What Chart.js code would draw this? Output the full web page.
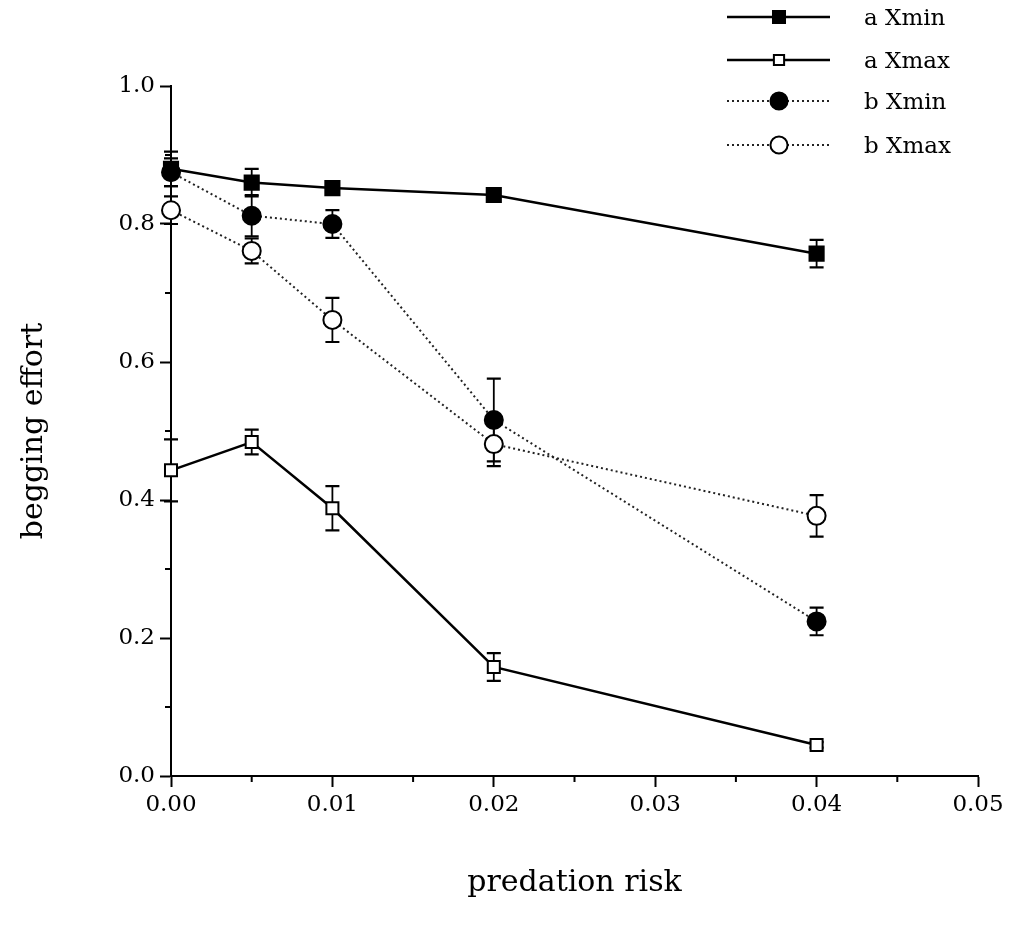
<!DOCTYPE html>
<html><head><meta charset="utf-8">
<script src="https://cdn.jsdelivr.net/npm/chart.js@4/dist/chart.umd.min.js"></script>
<style>html,body{margin:0;padding:0;background:#fff}#wrap{width:1009px;height:925px}</style>
</head><body><div id="wrap"><canvas id="c" width="1009" height="925"></canvas></div>
<script>
// ---- data ----
const predationRisk = [0, 0.005, 0.01, 0.02, 0.04];
const seriesLabels = ['a Xmin', 'a Xmax', 'b Xmin', 'b Xmax'];
const aXmin    = [0.880, 0.860, 0.852, 0.842, 0.757];
const aXminErr = [0.025, 0.020, 0.006, 0.006, 0.020];
const aXmax    = [0.443, 0.484, 0.388, 0.158, 0.045];
const aXmaxErr = [0.045, 0.018, 0.032, 0.020, 0.004];
const bXmin    = [0.875, 0.812, 0.800, 0.516, 0.224];
const bXminErr = [0.020, 0.030, 0.020, 0.060, 0.020];
const bXmax    = [0.820, 0.761, 0.661, 0.481, 0.377];
const bXmaxErr = [0.020, 0.018, 0.032, 0.032, 0.030];
const xTickLabels = ['0.00', '0.01', '0.02', '0.03', '0.04', '0.05'];
const yTickLabels = ['0.0', '0.2', '0.4', '0.6', '0.8', '1.0'];
const xTitle = 'predation risk';
const yTitle = 'begging effort';

const FONT = "'DejaVu Serif', 'Liberation Serif', serif";
const pts = (ys) => predationRisk.map((x, i) => ({x: x, y: ys[i]}));

const styles = [
  {style: 'rect', r: 10, fill: '#000', dash: [], lw: 2.5, color: '#000'},
  {style: 'rect', r: 8.5, fill: '#fff', dash: [], lw: 2.5, color: '#000'},
  {style: 'circle', r: 9, fill: '#000', dash: [2, 3], lw: 2, color: '#222'},
  {style: 'circle', r: 9, fill: '#fff', dash: [2, 3], lw: 2, color: '#222'}
];
const values = [aXmin, aXmax, bXmin, bXmax];
const errs = [aXminErr, aXmaxErr, bXminErr, bXmaxErr];

const datasets = values.map((v, i) => ({
  label: seriesLabels[i],
  data: pts(v),
  errors: errs[i],
  showLine: true,
  borderColor: styles[i].color,
  borderWidth: styles[i].lw,
  borderDash: styles[i].dash,
  pointStyle: styles[i].style,
  pointRadius: styles[i].r,
  pointHoverRadius: styles[i].r,
  pointBackgroundColor: styles[i].fill,
  pointBorderColor: '#000',
  pointBorderWidth: 2,
  tension: 0,
  clip: false
}));

function near(v, step) { return Math.abs(v / step - Math.round(v / step)) < 1e-6; }

const errorBars = {
  id: 'errorBars',
  beforeDatasetsDraw(chart) {
    const ctx = chart.ctx, xs = chart.scales.x, ys = chart.scales.y;
    ctx.save();
    ctx.strokeStyle = '#000';
    chart.data.datasets.forEach(ds => {
      ds.data.forEach((p, j) => {
        const e = ds.errors[j];
        const x = xs.getPixelForValue(p.x);
        const yt = ys.getPixelForValue(p.y + e), yb = ys.getPixelForValue(p.y - e);
        ctx.lineWidth = 1.8;
        ctx.beginPath(); ctx.moveTo(x, yt); ctx.lineTo(x, yb); ctx.stroke();
        ctx.lineWidth = 2.2;
        ctx.beginPath();
        ctx.moveTo(x - 7, yt); ctx.lineTo(x + 7, yt);
        ctx.moveTo(x - 7, yb); ctx.lineTo(x + 7, yb);
        ctx.stroke();
      });
    });
    ctx.restore();
  }
};

const minorTicks = {
  id: 'minorTicks',
  afterDraw(chart) {
    const ctx = chart.ctx, xs = chart.scales.x, ys = chart.scales.y, a = chart.chartArea;
    ctx.save();
    ctx.strokeStyle = '#000'; ctx.lineWidth = 2;
    ctx.beginPath();
    xs.ticks.forEach(t => {
      if (!near(t.value, 0.01)) { const x = xs.getPixelForValue(t.value); ctx.moveTo(x, a.bottom); ctx.lineTo(x, a.bottom + 6); }
    });
    ys.ticks.forEach(t => {
      if (!near(t.value, 0.2)) { const y = ys.getPixelForValue(t.value); ctx.moveTo(a.left, y); ctx.lineTo(a.left - 6, y); }
    });
    ctx.stroke();
    ctx.restore();
  }
};

function drawMarker(ctx, st, x, y) {
  ctx.fillStyle = st.fill; ctx.strokeStyle = '#000'; ctx.lineWidth = 2;
  ctx.beginPath();
  if (st.style === 'rect') {
    const s = st.r * Math.SQRT1_2 * 0.85;
    ctx.rect(x - s, y - s, 2 * s, 2 * s);
  } else {
    ctx.arc(x, y, st.r * 0.95, 0, Math.PI * 2);
  }
  ctx.fill(); ctx.stroke();
}

const legendPlugin = {
  id: 'customLegend',
  afterDraw(chart) {
    const ctx = chart.ctx;
    const rowsY = [17, 60, 101, 145];
    ctx.save();
    chart.data.datasets.forEach((ds, i) => {
      const st = styles[i], y = rowsY[i];
      ctx.strokeStyle = st.color; ctx.lineWidth = st.lw; ctx.setLineDash(st.dash);
      ctx.beginPath(); ctx.moveTo(727, y); ctx.lineTo(830, y); ctx.stroke();
      ctx.setLineDash([]);
      drawMarker(ctx, st, 779, y);
      ctx.fillStyle = '#000';
      ctx.font = "23px " + FONT;
      ctx.textBaseline = 'middle';
      ctx.fillText(ds.label, 864, y + 2);
    });
    ctx.restore();
  }
};

new Chart(document.getElementById('c'), {
  type: 'scatter',
  data: {datasets: datasets},
  plugins: [errorBars, minorTicks, legendPlugin],
  options: {
    responsive: false,
    animation: false,
    events: [],
    layout: {padding: {left: 0, top: 86, right: 31, bottom: 0}},
    plugins: {legend: {display: false}, tooltip: {enabled: false}},
    scales: {
      x: {
        type: 'linear', min: 0, max: 0.05,
        afterFit: s => { s.height = 149; },
        ticks: {
          stepSize: 0.005, color: '#000', padding: 4, maxRotation: 0, autoSkip: false,
          font: {family: FONT, size: 23},
          callback: v => near(v, 0.01) ? xTickLabels[Math.round(v / 0.01)] : ''
        },
        grid: {drawOnChartArea: false, drawTicks: true, tickLength: 11, tickWidth: 2,
               tickColor: c => (c.tick && near(c.tick.value, 0.01)) ? '#000' : 'rgba(0,0,0,0)'},
        border: {display: true, color: '#000', width: 2},
        title: {display: true, text: xTitle, color: '#000', font: {family: FONT, size: 30}, padding: {top: 0, bottom: 24}}
      },
      y: {
        type: 'linear', min: 0, max: 1,
        afterFit: s => { s.width = 171; },
        ticks: {
          stepSize: 0.1, color: '#000', padding: 5, autoSkip: false,
          font: {family: FONT, size: 23},
          callback: v => near(v, 0.2) ? yTickLabels[Math.round(v / 0.2)] : ''
        },
        grid: {drawOnChartArea: false, drawTicks: true, tickLength: 11, tickWidth: 2,
               tickColor: c => (c.tick && near(c.tick.value, 0.2)) ? '#000' : 'rgba(0,0,0,0)'},
        border: {display: true, color: '#000', width: 2},
        title: {display: true, text: yTitle, color: '#000', font: {family: FONT, size: 30}, padding: {top: 16, bottom: 0}}
      }
    }
  }
});
</script>
</body></html>
